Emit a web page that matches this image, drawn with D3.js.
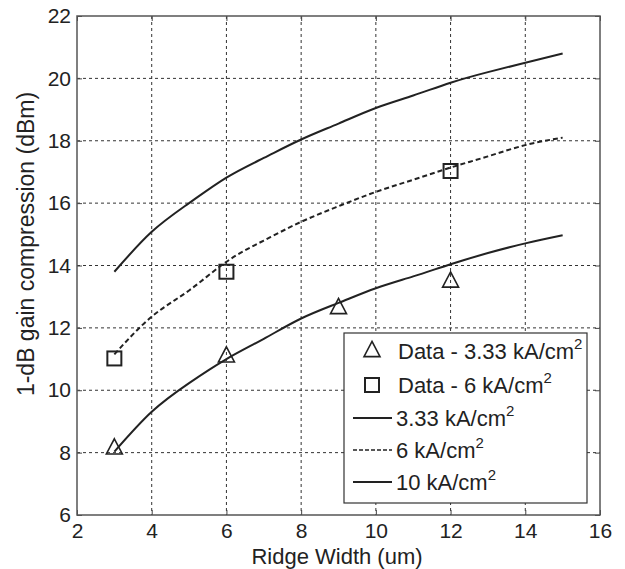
<!DOCTYPE html>
<html>
<head>
<meta charset="utf-8">
<script src="https://cdn.jsdelivr.net/npm/d3@7"></script>
<style>
  html, body { margin: 0; padding: 0; background: #fff; }
  svg { display: block; font-family: "Liberation Sans", Arial, Helvetica, sans-serif; }
</style>
</head>
<body>
<svg id="chart" width="625" height="569"></svg>
<script>
// Ridge widths (um) at which the model curves are evaluated
const ridgeWidth = [3, 4, 5, 6, 7, 8, 9, 10, 11, 12, 13, 14, 15];

// Modelled 1-dB gain compression (dBm) for three current densities
const model333 = [8.03, 9.31, 10.23, 11.0, 11.65, 12.3, 12.8, 13.27, 13.65, 14.04, 14.4, 14.71, 14.97];
const model6   = [11.15, 12.36, 13.2, 14.12, 14.8, 15.4, 15.9, 16.36, 16.75, 17.14, 17.5, 17.86, 18.1];
const model10  = [13.8, 15.08, 16.0, 16.82, 17.45, 18.04, 18.55, 19.05, 19.45, 19.86, 20.2, 20.5, 20.8];

// Measured points
const data333X = [3, 6, 9, 12];
const data333Y = [8.2, 11.15, 12.7, 13.55];
const data6X   = [3, 6, 12];
const data6Y   = [11.02, 13.8, 17.03];

// Axis ticks
const xTicks = [2, 4, 6, 8, 10, 12, 14, 16];
const yTicks = [6, 8, 10, 12, 14, 16, 18, 20, 22];

const svg = d3.select("#chart");
const plotLeft = 77, plotRight = 600, plotTop = 16, plotBottom = 515;
const ink = "#222";
const fontSize = "22px";
const tickFont = "21px";

const x = d3.scaleLinear().domain([2, 16]).range([plotLeft, plotRight]);
const y = d3.scaleLinear().domain([6, 22]).range([plotBottom, plotTop]);

// Dotted grid
const grid = svg.append("g").attr("stroke", "#333").attr("stroke-width", 1).attr("stroke-dasharray", "3,3");
xTicks.slice(1, -1).forEach(t => grid.append("line")
  .attr("x1", x(t)).attr("x2", x(t)).attr("y1", plotTop).attr("y2", plotBottom));
yTicks.slice(1, -1).forEach(t => grid.append("line")
  .attr("x1", plotLeft).attr("x2", plotRight).attr("y1", y(t)).attr("y2", y(t)));

// Axes with inward ticks on all four sides
const tickLen = 5;
const axB = svg.append("g").attr("transform", `translate(0,${plotBottom})`)
  .call(d3.axisBottom(x).tickValues(xTicks).tickSizeInner(-tickLen).tickSizeOuter(0).tickPadding(8));
const axT = svg.append("g").attr("transform", `translate(0,${plotTop})`)
  .call(d3.axisTop(x).tickValues(xTicks).tickSizeInner(-tickLen).tickSizeOuter(0).tickFormat(""));
const axL = svg.append("g").attr("transform", `translate(${plotLeft},0)`)
  .call(d3.axisLeft(y).tickValues(yTicks).tickSizeInner(-tickLen).tickSizeOuter(0).tickPadding(6));
const axR = svg.append("g").attr("transform", `translate(${plotRight},0)`)
  .call(d3.axisRight(y).tickValues(yTicks).tickSizeInner(-tickLen).tickSizeOuter(0).tickFormat(""));
[axB, axT, axL, axR].forEach(a => {
  a.select(".domain").remove();
  a.selectAll(".tick line").attr("stroke", "#444");
  a.selectAll("text").attr("fill", ink).style("font-size", tickFont).style("font-family", "Liberation Sans, Arial, sans-serif");
});
axB.selectAll("text").attr("dy", "0.71em");

// Plot box
svg.append("rect").attr("x", plotLeft).attr("y", plotTop).attr("width", plotRight - plotLeft).attr("height", plotBottom - plotTop)
  .attr("fill", "none").attr("stroke", "#555").attr("stroke-width", 1.5);

// Model curves
const line = d3.line().x((d, i) => x(ridgeWidth[i])).y(d => y(d)).curve(d3.curveNatural);
const curves = svg.append("g").attr("fill", "none").attr("stroke", ink).attr("stroke-width", 2);
curves.append("path").attr("d", line(model333));
curves.append("path").attr("d", line(model6)).attr("stroke-dasharray", "5,3");
curves.append("path").attr("d", line(model10));

// Marker shapes
const triSize = 16, sqSize = 14;
function triangle(g, cx, cy) {
  const h = triSize * 0.95, w = triSize;
  g.append("path")
    .attr("d", `M${cx},${cy - h / 2}L${cx + w / 2},${cy + h / 2}L${cx - w / 2},${cy + h / 2}Z`)
    .attr("fill", "none").attr("stroke", ink).attr("stroke-width", 1.6);
}
function square(g, cx, cy) {
  g.append("rect").attr("x", cx - sqSize / 2).attr("y", cy - sqSize / 2)
    .attr("width", sqSize).attr("height", sqSize)
    .attr("fill", "none").attr("stroke", ink).attr("stroke-width", 2);
}
const marks = svg.append("g");
data333X.forEach((v, i) => triangle(marks, x(v), y(data333Y[i])));
data6X.forEach((v, i) => square(marks, x(v), y(data6Y[i])));

// Axis titles
svg.append("text").attr("x", 337).attr("y", 564)
  .attr("text-anchor", "middle").attr("fill", ink).style("font-size", fontSize)
  .text("Ridge Width (um)");
svg.append("text").attr("transform", `translate(34,244) rotate(-90)`)
  .attr("text-anchor", "middle").attr("fill", ink).style("font-size", "23px")
  .text("1-dB gain compression (dBm)");

// Legend
const legend = svg.append("g");
legend.append("rect").attr("x", 344).attr("y", 333).attr("width", 243).attr("height", 170)
  .attr("fill", "#fff").attr("stroke", "#333").attr("stroke-width", 1.2);
const rows = [
  { label: "Data - 3.33 kA/cm", kind: "tri", cy: 351 },
  { label: "Data - 6 kA/cm", kind: "sq", cy: 385 },
  { label: "3.33 kA/cm", kind: "solid", cy: 418 },
  { label: "6 kA/cm", kind: "dash", cy: 450 },
  { label: "10 kA/cm", kind: "solid", cy: 482 }
];
rows.forEach(r => {
  let tx = 396;
  if (r.kind === "tri") { triangle(legend, 372, r.cy - 2); tx = 398; }
  else if (r.kind === "sq") { square(legend, 372, r.cy); tx = 398; }
  else {
    legend.append("line").attr("x1", 353).attr("x2", 392).attr("y1", r.cy).attr("y2", r.cy)
      .attr("stroke", ink).attr("stroke-width", r.kind === "dash" ? 1.5 : 2)
      .attr("stroke-dasharray", r.kind === "dash" ? "4,2" : null);
  }
  const t = legend.append("text").attr("x", tx).attr("y", r.cy + 8).attr("fill", ink).style("font-size", fontSize);
  t.append("tspan").text(r.label);
  t.append("tspan").attr("dy", -10).style("font-size", "15px").text("2");
});
</script>
</body>
</html>
